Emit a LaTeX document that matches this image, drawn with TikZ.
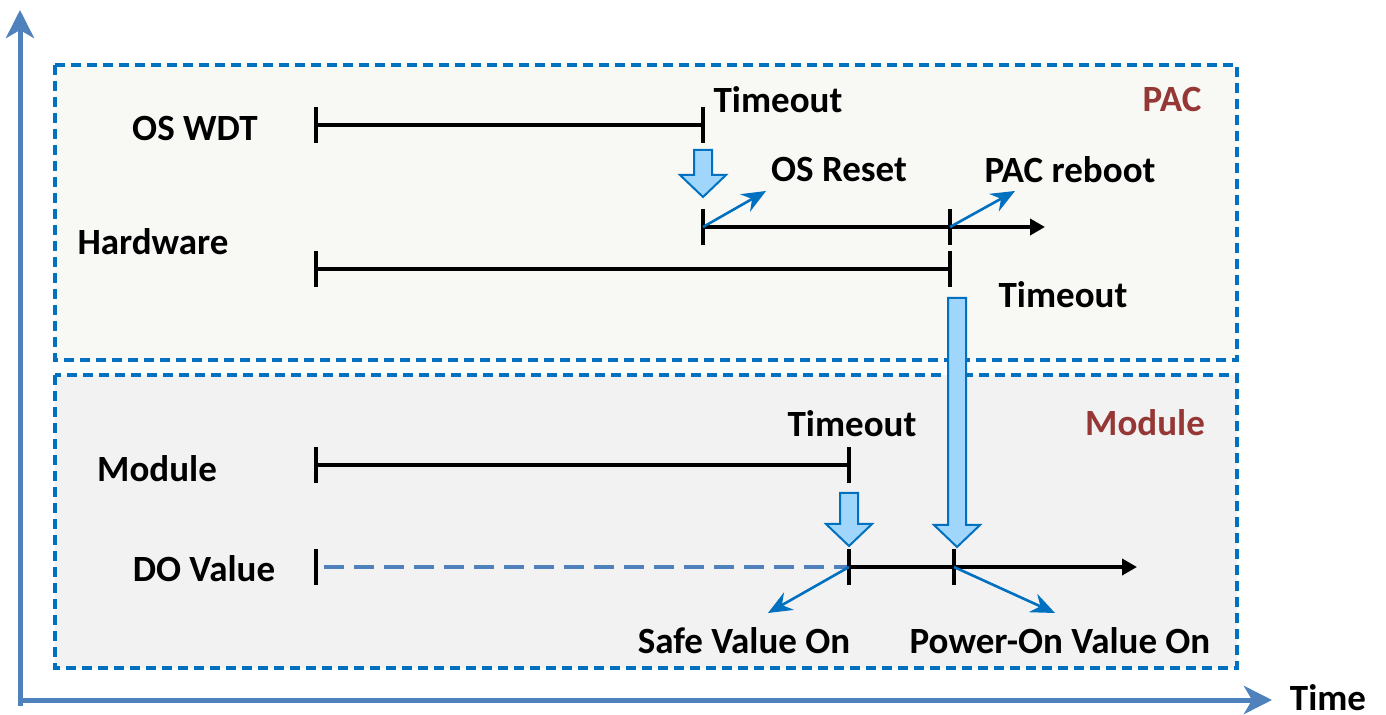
\documentclass[tikz,border=0pt]{standalone}
\usepackage{fontspec}
\setmainfont{Carlito}
\usetikzlibrary{arrows.meta, calc}

\definecolor{axisblue}{RGB}{79,129,189}
\definecolor{boxblue}{RGB}{0,112,192}
\definecolor{pacred}{RGB}{149,55,53}
\definecolor{arrowfill}{RGB}{160,214,251}
\definecolor{pacbg}{RGB}{248,248,244}
\definecolor{modbg}{RGB}{242,242,242}

\tikzset{
  lbl/.style={font=\fontsize{18.5}{20}\selectfont\bfseries, inner sep=0pt},
  title/.style={lbl, text=pacred},
  phase/.style={draw=boxblue, line width=1.8pt, dash pattern=on 5pt off 3pt},
  timer/.style={black, line width=2.4pt},
  tick/.style={black, line width=2.4pt},
  hint/.style={draw=boxblue, line width=1.3pt, -{Stealth[length=12pt, width=10pt, inset=4pt]}},
  blockarrow/.style={fill=arrowfill, draw=boxblue, line width=1pt, line join=miter},
  axis/.style={axisblue, line width=2.5pt, -{Stealth[length=14pt, width=14pt, inset=4pt]}},
}

% x, top, bottom of a fat arrow pointing down
\newcommand{\bigdown}[3]{%
  \filldraw[blockarrow] (#1-9,#2) -- (#1+9,#2) -- (#1+9,#3-22) -- (#1+23,#3-22)
    -- (#1,#3) -- (#1-23,#3-22) -- (#1-9,#3-22) -- cycle;}
% short vertical tick at a coordinate
\newcommand{\tickat}[1]{\draw[tick] ($(#1)+(0,-18)$) -- ($(#1)+(0,18)$);}

\begin{document}
\begin{tikzpicture}[x=0.5pt, y=-0.5pt]
  \useasboundingbox (0,0) rectangle (1386,715);

  % phases
  \fill[pacbg] (55,65) rectangle (1237,360);
  \draw[phase] (55,65) rectangle (1237,360);
  \fill[modbg] (55,375) rectangle (1237,668);
  \draw[phase] (55,375) rectangle (1237,668);

  \node[title] (pac) at (1172,100) {PAC};
  \node[title] (mod) at (1145,423) {Module};

  % axes
  \coordinate (origin) at (20,700);
  \coordinate (ytop) at (20,10);
  \coordinate (xend) at (1272,700);
  \draw[axis] (20,706) -- (ytop);
  \draw[axis] (origin) -- (xend);
  \node[lbl] (time) at (1328,698) {Time};

  % row labels
  \node[lbl] (wdt) at (195,129) {OS WDT};
  \node[lbl] (hw) at (153,242) {Hardware};
  \node[lbl] (module) at (157,469) {Module};
  \node[lbl] (do) at (204,569) {DO Value};

  % OS WDT
  \coordinate (w0) at (316,125);
  \coordinate (w1) at (703,125);
  \draw[timer] (w0) -- (w1);
  \tickat{w0} \tickat{w1}
  \node[lbl] (wto) at (778,100) {Timeout};
  \bigdown{703}{150}{197}

  % OS reset / reboot
  \coordinate (r0) at (703,227);
  \coordinate (r1) at (950,227);
  \coordinate (r2) at (1045,227);
  \draw[timer, -{Triangle[length=7.5pt, width=8pt]}] (r0) -- (r2);
  \tickat{r0} \tickat{r1}
  \coordinate (rs) at (766,191);
  \coordinate (rb) at (1015,191);
  \draw[hint] (r0) -- (rs);
  \draw[hint] (r1) -- (rb);
  \node[lbl] (reset) at (839,170) {OS Reset};
  \node[lbl] (reboot) at (1070,170) {PAC reboot};

  % hardware
  \coordinate (h0) at (316,269);
  \coordinate (h1) at (950,269);
  \draw[timer] (h0) -- (h1);
  \tickat{h0} \tickat{h1}
  \node[lbl] (hto) at (1063,295) {Timeout};
  \bigdown{957}{298}{547}

  % module
  \coordinate (m0) at (316,465);
  \coordinate (m1) at (849,465);
  \draw[timer] (m0) -- (m1);
  \tickat{m0} \tickat{m1}
  \node[lbl] (mto) at (852,424) {Timeout};
  \bigdown{849}{493}{546}

  % DO value
  \coordinate (d0) at (316,567);
  \coordinate (d1) at (849,567);
  \coordinate (d2) at (954,567);
  \coordinate (d3) at (1137,567);
  \draw[axisblue, line width=1.6pt, dash pattern=on 10pt off 5pt] ($(d0)+(8,0)$) -- (d1);
  \draw[timer, -{Triangle[length=7.5pt, width=8pt]}] (d1) -- (d3);
  \tickat{d0} \tickat{d1} \tickat{d2}
  \coordinate (sv) at (768,613);
  \coordinate (pv) at (1055,613);
  \draw[hint] (d1) -- (sv);
  \draw[hint] (d2) -- (pv);
  \node[lbl] (safe) at (744,641) {Safe Value On};
  \node[lbl] (power) at (1060,641) {Power-On Value On};
\end{tikzpicture}
\end{document}
